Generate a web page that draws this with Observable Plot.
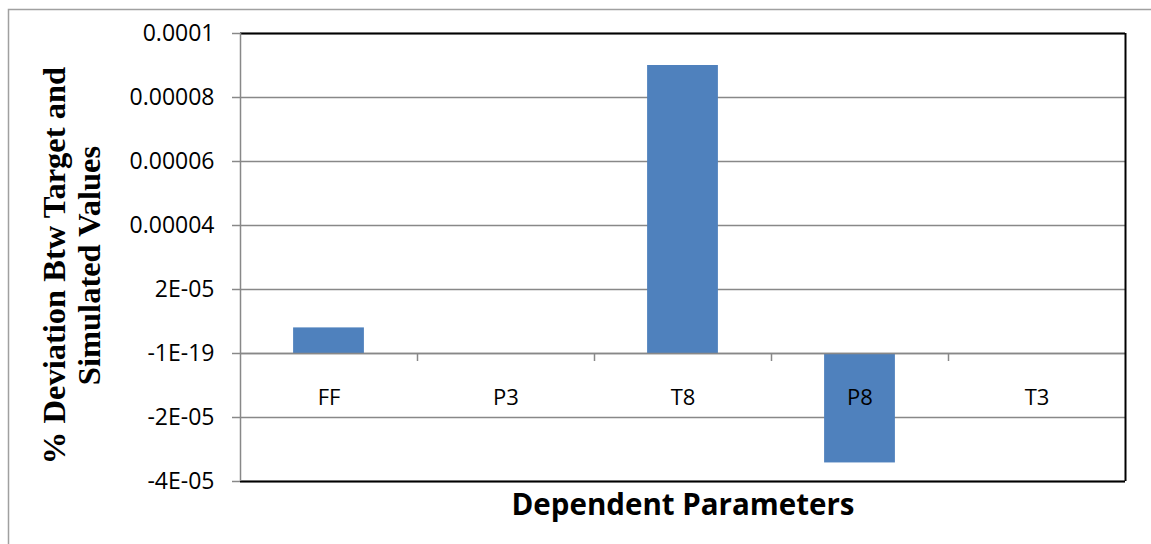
<!DOCTYPE html>
<html>
<head>
<meta charset="utf-8">
<script src="https://cdn.jsdelivr.net/npm/d3@7"></script>
<script src="https://cdn.jsdelivr.net/npm/@observablehq/plot@0.6"></script>
<style>
  html, body { margin: 0; padding: 0; background: #fff; }
  #chart { width: 1151px; height: 544px; }
</style>
</head>
<body>
<div id="chart"></div>
<script>
const categories = ["FF", "P3", "T8", "P8", "T3"];
const values = [8e-6, 0, 9e-5, -3.42e-5, 0];
const yTicks = [-4e-5, -2e-5, 0, 2e-5, 4e-5, 6e-5, 8e-5, 1e-4];
const yTickLabels = ["-4E-05", "-2E-05", "-1E-19", "2E-05", "0.00004", "0.00006", "0.00008", "0.0001"];
const yTitle = "% Deviation Btw Target and\nSimulated Values";
const xTitle = "Dependent Parameters";

const data = categories.map((c, i) => ({cat: c, value: values[i]}));

const W = 1151, H = 544;
const mL = 240, mR = 26, mT = 33, mB = 63;
const band = (W - mL - mR) / categories.length;
const grid = "#888888";

const plot = Plot.plot({
  width: W,
  height: H,
  marginLeft: mL,
  marginRight: mR,
  marginTop: mT,
  marginBottom: mB,
  style: {fontFamily: "'Open Sans', sans-serif", fontSize: "23px", color: "#000", background: "#fff", overflow: "visible"},
  x: {type: "band", domain: categories, padding: 0, axis: null},
  y: {domain: [-4e-5, 1e-4], axis: null},
  marks: [
    Plot.ruleY(yTicks, {stroke: grid, strokeWidth: 1.5}),
    Plot.barY(data, {x: "cat", y: "value", fill: "#4F81BD", insetLeft: band * 0.3, insetRight: band * 0.3}),
    Plot.ruleY([0], {stroke: grid, strokeWidth: 1.5}),
    Plot.ruleX(categories.slice(1), {dx: -band / 2, y1: 0, y2: 0, insetBottom: -8, stroke: grid, strokeWidth: 1.5}),
    Plot.ruleY([yTicks[0], yTicks[yTicks.length - 1]], {stroke: "#000", strokeWidth: 2}),
    Plot.ruleX([categories[categories.length - 1]], {dx: band / 2, stroke: "#000", strokeWidth: 2}),
    Plot.ruleX([categories[0]], {dx: -band / 2, stroke: grid, strokeWidth: 1.5}),
    Plot.axisY({ticks: yTicks, tickFormat: d => yTickLabels[yTicks.indexOf(d)], tickSize: 8, tickPadding: 18, stroke: grid, strokeWidth: 1.5, label: null, fontSize: 23}),
    Plot.text(data, {x: "cat", y: 0, text: "cat", dy: 44, fontSize: 22, fill: "#000"}),
    Plot.text([yTitle], {frameAnchor: "left", dx: -169, dy: 8, rotate: -90, textAnchor: "middle", lineAnchor: "middle", fontFamily: "'Liberation Serif', serif", fontWeight: "bold", fontSize: 32.5, lineHeight: 1.07, fill: "#000"}),
    Plot.text([xTitle], {frameAnchor: "bottom", dy: 33, fontWeight: "bold", fontSize: 29.5, fill: "#000"})
  ]
});

document.getElementById("chart").appendChild(plot);

// outer chart-area border (partially visible in the reference)
d3.select(plot).append("path")
  .attr("d", `M8.5,${H}V9.5H${W}`)
  .attr("fill", "none")
  .attr("stroke", "#a0a0a0")
  .attr("stroke-width", 1.5);
</script>
</body>
</html>
